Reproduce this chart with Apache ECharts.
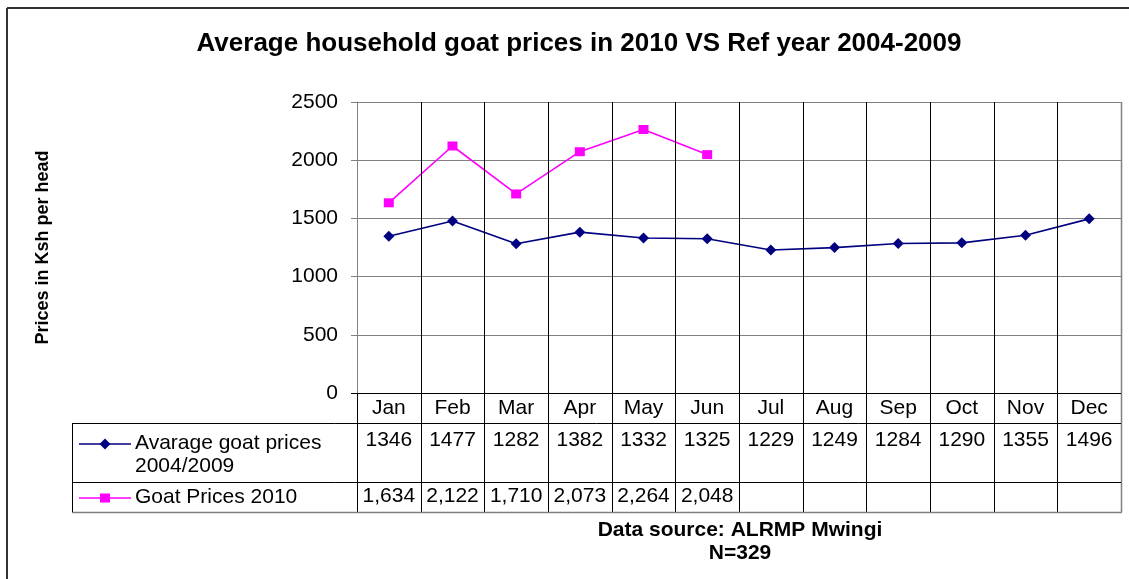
<!DOCTYPE html>
<html>
<head>
<meta charset="utf-8">
<script src="https://cdn.jsdelivr.net/npm/echarts@6/dist/echarts.min.js"></script>
<style>
html,body{margin:0;padding:0;background:#fff;}
#c{width:1129px;height:579px;}
</style>
</head>
<body>
<div id="c"></div>
<script>
var months = ['Jan','Feb','Mar','Apr','May','Jun','Jul','Aug','Sep','Oct','Nov','Dec'];
var avgPrices = [1346,1477,1282,1382,1332,1325,1229,1249,1284,1290,1355,1496];
var prices2010 = [1634,2122,1710,2073,2264,2048,null,null,null,null,null,null];
var seriesNames = ['Avarage goat prices 2004/2009', 'Goat Prices 2010'];
var legendLines = [['Avarage goat prices', '2004/2009'], ['Goat Prices 2010']];
var yTicks = {min: 0, max: 2500, interval: 500};
var titleText = 'Average household goat prices in 2010 VS Ref year 2004-2009';
var yName = 'Prices in Ksh per head';
var footer = ['Data source: ALRMP Mwingi', 'N=329'];

var FONT = 'Arial, "Liberation Sans", sans-serif';
var NAVY = '#000080', PINK = '#FF00FF';
var GRID = {left: 357, right: 8, top: 102, bottom: 186};
var ROW = {head: 393, r1: 423, r2: 482, end: 512};
var TABLE_LEFT = 72;
var FS = 21;

function fmt(v){ return v == null ? '' : v.toLocaleString('en-US'); }

var chart = echarts.init(document.getElementById('c'), null, {renderer: 'canvas'});
var option = {
  animation: false,
  backgroundColor: '#fff',
  textStyle: {fontFamily: FONT},
  title: {
    text: titleText, left: 574, top: 26, textAlign: 'center',
    textStyle: {fontFamily: FONT, fontSize: 26, fontWeight: 'bold', color: '#000'}
  },
  grid: {left: GRID.left, right: GRID.right, top: GRID.top, bottom: GRID.bottom, containLabel: false},
  xAxis: [
    {type: 'category', data: months, position: 'bottom', boundaryGap: true,
     axisLine: {show: false}, axisTick: {show: false}, splitLine: {show: false},
     axisLabel: {margin: 5, fontSize: FS, color: '#000', fontFamily: FONT, interval: 0}},
    {type: 'category', data: months, position: 'bottom', offset: ROW.r1 - ROW.head, boundaryGap: true,
     axisLine: {show: false}, axisTick: {show: false}, splitLine: {show: false},
     axisLabel: {margin: 7, fontSize: FS, color: '#000', fontFamily: FONT, interval: 0,
       formatter: function(v, i){ return String(avgPrices[i]); }}},
    {type: 'category', data: months, position: 'bottom', offset: ROW.r2 - ROW.head, boundaryGap: true,
     axisLine: {show: false}, axisTick: {show: false}, splitLine: {show: false},
     axisLabel: {margin: 4, fontSize: FS, color: '#000', fontFamily: FONT, interval: 0,
       formatter: function(v, i){ return fmt(prices2010[i]); }}}
  ],
  yAxis: {
    type: 'value', min: yTicks.min, max: yTicks.max, interval: yTicks.interval,
    name: yName, nameLocation: 'middle', nameGap: 305, nameRotate: 90,
    nameTextStyle: {fontFamily: FONT, fontSize: 18, fontWeight: 'bold', color: '#000'},
    axisLine: {show: true, lineStyle: {color: '#808080', width: 1}},
    axisTick: {show: true, inside: false, length: 6, lineStyle: {color: '#808080', width: 1}},
    axisLabel: {margin: 19, fontSize: FS, color: '#000', fontFamily: FONT,
      formatter: function(v){ return String(v); }},
    splitLine: {show: true, lineStyle: {color: '#808080', width: 1}}
  },
  series: [
    {name: seriesNames[0], type: 'line', data: avgPrices, xAxisIndex: 0,
     symbol: 'diamond', symbolSize: 11, lineStyle: {color: NAVY, width: 1.6},
     itemStyle: {color: NAVY}},
    {name: seriesNames[1], type: 'line', data: prices2010, xAxisIndex: 0,
     symbol: 'rect', symbolSize: [10, 9], lineStyle: {color: PINK, width: 1.6},
     itemStyle: {color: PINK}}
  ]
};
chart.setOption(option);

var x0 = chart.convertToPixel({xAxisIndex: 0}, months[0]);
var x1 = chart.convertToPixel({xAxisIndex: 0}, months[1]);
var band = x1 - x0;
var g = [];
function line(xa, ya, xb, yb, color, w){
  g.push({type: 'line', silent: true, z: 50,
    shape: {x1: xa, y1: ya, x2: xb, y2: yb},
    style: {stroke: color, lineWidth: w || 1}});
}
var plotTop = GRID.top;
var rightX = 1129 - GRID.right;
for (var i = 1; i < months.length; i++) {
  var bx = Math.round(chart.convertToPixel({xAxisIndex: 0}, months[i]) - band / 2) + 0.5;
  line(bx, plotTop, bx, ROW.end, '#000', 1);
}
line(rightX + 0.5, plotTop, rightX + 0.5, ROW.end, '#808080', 1.5);
line(GRID.left + 0.5, ROW.head, GRID.left + 0.5, ROW.end, '#000', 1);
line(GRID.left - 6, ROW.head + 0.5, rightX, ROW.head + 0.5, '#000', 1);
line(TABLE_LEFT, ROW.r1 + 0.5, rightX, ROW.r1 + 0.5, '#000', 1);
line(TABLE_LEFT, ROW.r2 + 0.5, rightX, ROW.r2 + 0.5, '#000', 1);
line(TABLE_LEFT, ROW.end + 0.5, rightX + 1, ROW.end + 0.5, '#808080', 1.5);
line(TABLE_LEFT + 0.5, ROW.r1, TABLE_LEFT + 0.5, ROW.end, '#000', 1);

var keys = [
  {color: NAVY, symbol: 'diamond', y: 444, lines: legendLines[0]},
  {color: PINK, symbol: 'rect', y: 498, lines: legendLines[1]}
];
keys.forEach(function(k){
  line(79, k.y, 131, k.y, k.color, 1.6);
  if (k.symbol === 'diamond') {
    g.push({type: 'polygon', z: 51, shape: {points: [[105, k.y - 5.5], [110.5, k.y], [105, k.y + 5.5], [99.5, k.y]]},
      style: {fill: k.color}});
  } else {
    g.push({type: 'rect', z: 51, shape: {x: 100, y: k.y - 4.5, width: 10, height: 9}, style: {fill: k.color}});
  }
  k.lines.forEach(function(t, j){
    g.push({type: 'text', z: 51, x: 135, y: k.y - 1 + j * 23,
      style: {text: t, fontSize: FS, fontFamily: FONT, fill: '#000', textVerticalAlign: 'middle', textAlign: 'left'}});
  });
});

footer.forEach(function(t, j){
  g.push({type: 'text', z: 51, x: 740, y: 530 + j * 23,
    style: {text: t, fontSize: 21, fontWeight: 'bold', fontFamily: FONT, fill: '#000', textAlign: 'center', textVerticalAlign: 'middle'}});
});

line(7, 8, 1129, 8, '#333', 2);
line(7, 8, 7, 579, '#333', 2);

chart.setOption({graphic: g});
</script>
</body>
</html>
